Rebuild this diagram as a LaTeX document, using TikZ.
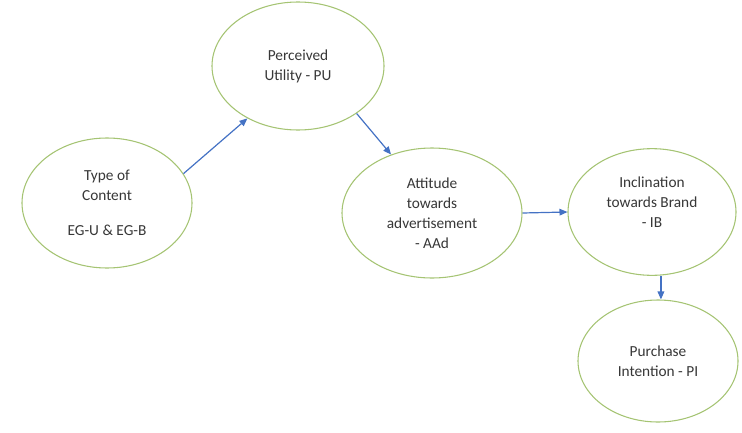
\documentclass[tikz,border=0pt]{standalone}
\usepackage{fontspec}
\setmainfont{Carlito}
\usetikzlibrary{shapes.geometric,arrows.meta}
\definecolor{blobgreen}{RGB}{165,196,115}
\definecolor{flowblue}{RGB}{68,114,196}
\definecolor{txtgray}{RGB}{55,55,55}
\begin{document}
\begin{tikzpicture}[x=0.75pt,y=-0.75pt,
        blob/.style={ellipse,draw=blobgreen,line width=0.8pt,fill=white,inner sep=0pt,
            align=center,text=txtgray,font=\fontsize{11.5}{15}\selectfont},
        flow/.style={draw=flowblue,line width=0.9pt,-{Triangle[length=6pt,width=5pt]}}]
        \useasboundingbox (0,0) rectangle (742,432);

        % the five constructs (sizes in pt = 0.75 px)
        \node[blob,minimum width=127.5pt,minimum height=97.5pt] (toc) at (107,203) {Type of\\Content\\[11pt]EG-U \& EG-B};
        \node[blob,minimum width=129pt,minimum height=96pt] (pu) at (298,66) {Perceived\\Utility - PU};
        \node[blob,minimum width=135pt,minimum height=97.5pt] (aad) at (432,213) {Attitude\\towards\\advertisement\\- AAd};
        \node[blob,minimum width=126pt,minimum height=95pt] (ib) at (652,212) {Inclination\\towards Brand\\- IB\\\mbox{}};
        \node[blob,minimum width=120pt,minimum height=91.5pt] (pi) at (658,361) {Purchase\\Intention - PI};

        % paths between them
        \draw[flow] (toc.21) -- (pu.226);
        \draw[flow] (pu.-39) -- (aad.125);
        \draw[flow] (aad.east) -- (ib.west);
        \draw[flow] (ib.-82) -- (ib.-82 |- pi.north);
\end{tikzpicture}
\end{document}
